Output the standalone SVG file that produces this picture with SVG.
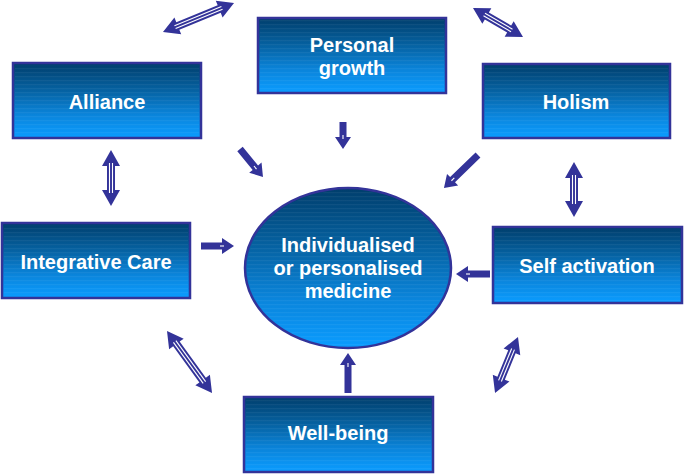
<svg xmlns="http://www.w3.org/2000/svg" width="685" height="474" viewBox="0 0 685 474">
<defs>
<linearGradient id="g" x1="0" y1="0" x2="0" y2="1">
<stop offset="0" stop-color="#003e6c"/>
<stop offset="0.35" stop-color="#05609f"/>
<stop offset="0.7" stop-color="#0a85dc"/>
<stop offset="1" stop-color="#0a9cff"/>
</linearGradient>
<pattern id="stripes" width="4" height="4" patternUnits="userSpaceOnUse">
<rect width="4" height="1.2" fill="#ffffff" opacity="0.05"/>
</pattern>
<style>
.box{fill:url(#g);stroke:#333399;stroke-width:2.5}
.ov{fill:url(#stripes)}
.t{font-family:"Liberation Sans",Arial,sans-serif;font-weight:bold;font-size:20px;fill:#ffffff;text-anchor:middle}
.a{fill:#333399}
.w{stroke:#ffffff;stroke-width:1.1}
</style>
</defs>
<rect width="685" height="474" fill="#ffffff"/>
<g id="connectors">
<g transform="translate(163,32) rotate(-22.2)">
<polygon class="a" points="0,0 16,-9 16,-4 60.7,-4 60.7,-9 76.7,0 60.7,9 60.7,4 16,4 16,9"/>
<line class="w" x1="13" y1="-1.5" x2="63.7" y2="-1.5"/><line class="w" x1="13" y1="1.5" x2="63.7" y2="1.5"/>
</g>
<g transform="translate(473,8) rotate(30.1)">
<polygon class="a" points="0,0 16,-9 16,-4 41.8,-4 41.8,-9 57.8,0 41.8,9 41.8,4 16,4 16,9"/>
<line class="w" x1="13" y1="-1.5" x2="44.8" y2="-1.5"/><line class="w" x1="13" y1="1.5" x2="44.8" y2="1.5"/>
</g>
<g transform="translate(111,150) rotate(90)">
<polygon class="a" points="0,0 16,-9 16,-4 40,-4 40,-9 56,0 40,9 40,4 16,4 16,9"/>
<line class="w" x1="13" y1="-1.5" x2="43" y2="-1.5"/><line class="w" x1="13" y1="1.5" x2="43" y2="1.5"/>
</g>
<g transform="translate(574,162) rotate(90)">
<polygon class="a" points="0,0 16,-9 16,-4 39,-4 39,-9 55,0 39,9 39,4 16,4 16,9"/>
<line class="w" x1="13" y1="-1.5" x2="42" y2="-1.5"/><line class="w" x1="13" y1="1.5" x2="42" y2="1.5"/>
</g>
<g transform="translate(167,331) rotate(54)">
<polygon class="a" points="0,0 16,-9 16,-4 60.6,-4 60.6,-9 76.6,0 60.6,9 60.6,4 16,4 16,9"/>
<line class="w" x1="13" y1="-1.5" x2="63.6" y2="-1.5"/><line class="w" x1="13" y1="1.5" x2="63.6" y2="1.5"/>
</g>
<g transform="translate(518,337) rotate(112.3)">
<polygon class="a" points="0,0 16,-9 16,-4 44.5,-4 44.5,-9 60.5,0 44.5,9 44.5,4 16,4 16,9"/>
<line class="w" x1="13" y1="-1.5" x2="47.5" y2="-1.5"/><line class="w" x1="13" y1="1.5" x2="47.5" y2="1.5"/>
</g>
<g transform="translate(343,122) rotate(90)">
<polygon class="a" points="0,-3.5 15,-3.5 15,-8 27,0 15,8 15,3.5 0,3.5"/>
<line class="w" x1="13" y1="0" x2="17" y2="0"/>
</g>
<g transform="translate(240,149) rotate(50.6)">
<polygon class="a" points="0,-3.5 24.2,-3.5 24.2,-8 36.2,0 24.2,8 24.2,3.5 0,3.5"/>
<line class="w" x1="22" y1="0" x2="26" y2="0"/>
</g>
<g transform="translate(478,155) rotate(135.9)">
<polygon class="a" points="0,-3.5 35.4,-3.5 35.4,-8 47.4,0 35.4,8 35.4,3.5 0,3.5"/>
<line class="w" x1="33" y1="0" x2="37" y2="0"/>
</g>
<g transform="translate(201,246)">
<polygon class="a" points="0,-3.5 21,-3.5 21,-8 33,0 21,8 21,3.5 0,3.5"/>
<line class="w" x1="19" y1="0" x2="23" y2="0"/>
</g>
<g transform="translate(490,274) rotate(180)">
<polygon class="a" points="0,-3.5 22,-3.5 22,-8 34,0 22,8 22,3.5 0,3.5"/>
<line class="w" x1="20" y1="0" x2="24" y2="0"/>
</g>
<g transform="translate(348,393) rotate(-90)">
<polygon class="a" points="0,-3.5 28,-3.5 28,-8 40,0 28,8 28,3.5 0,3.5"/>
<line class="w" x1="26" y1="0" x2="30" y2="0"/>
</g>
</g>
<g id="personal-growth">
<rect class="box" x="258" y="18" width="188" height="75"/>
<rect class="ov" x="260" y="20" width="184" height="71"/>
<text class="t" x="352" y="52">Personal</text>
<text class="t" x="352" y="75">growth</text>
</g>
<g id="alliance">
<rect class="box" x="13" y="63" width="188" height="75"/>
<rect class="ov" x="15" y="65" width="184" height="71"/>
<text class="t" x="107" y="109">Alliance</text>
</g>
<g id="holism">
<rect class="box" x="483" y="64" width="187" height="74"/>
<rect class="ov" x="485" y="66" width="183" height="70"/>
<text class="t" x="576" y="109">Holism</text>
</g>
<g id="integrative-care">
<rect class="box" x="2" y="223" width="188" height="75"/>
<rect class="ov" x="4" y="225" width="184" height="71"/>
<text class="t" x="96" y="269">Integrative Care</text>
</g>
<g id="self-activation">
<rect class="box" x="493" y="227" width="189" height="76"/>
<rect class="ov" x="495" y="229" width="185" height="72"/>
<text class="t" x="587" y="273">Self activation</text>
</g>
<g id="well-being">
<rect class="box" x="244" y="397" width="189" height="75"/>
<rect class="ov" x="246" y="399" width="185" height="71"/>
<text class="t" x="338" y="440">Well-being</text>
</g>
<g id="center">
<ellipse class="box" cx="348" cy="268" rx="103" ry="80"/>
<ellipse class="ov" cx="348" cy="268" rx="101" ry="78"/>
<text class="t" x="348" y="252">Individualised</text>
<text class="t" x="348" y="275">or personalised</text>
<text class="t" x="348" y="298">medicine</text>
</g>
</svg>
